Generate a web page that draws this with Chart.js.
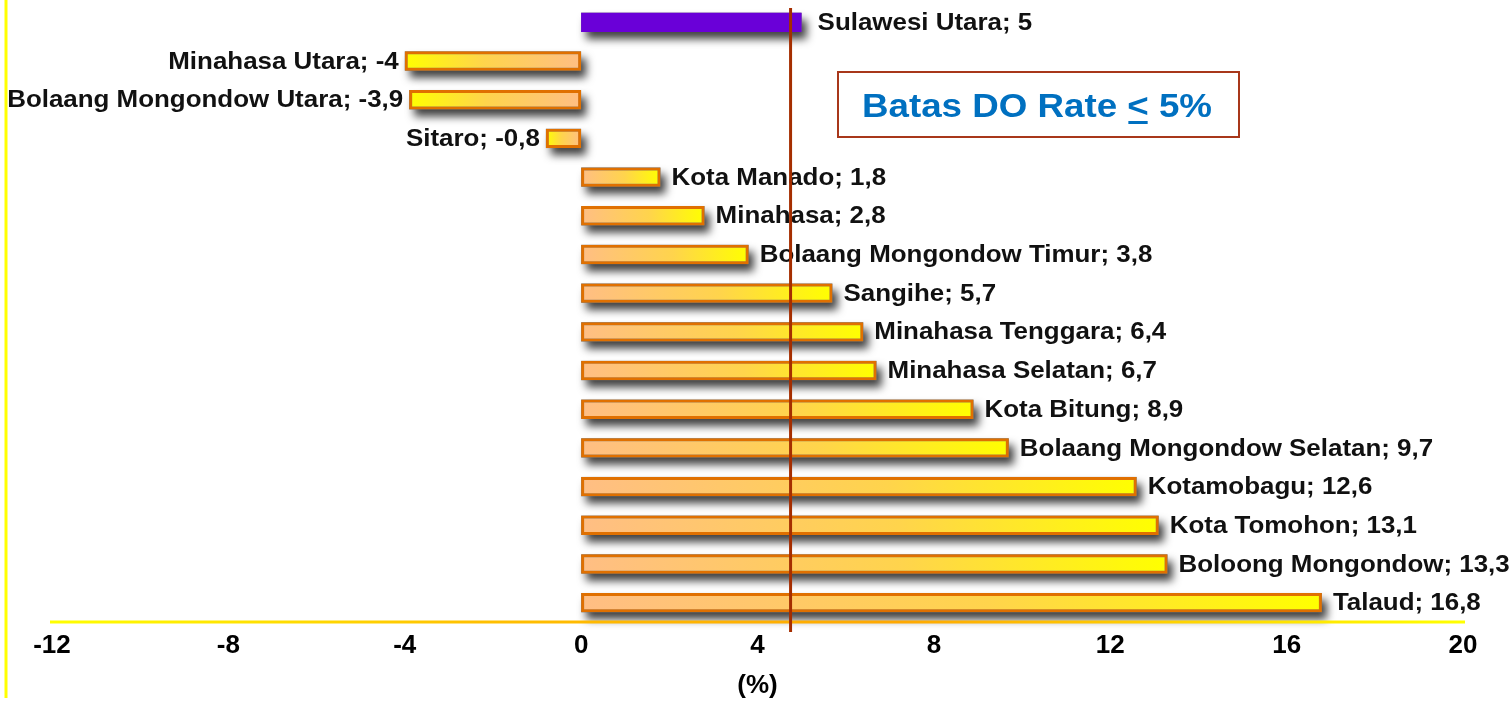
<!DOCTYPE html>
<html>
<head>
<meta charset="utf-8">
<script src="https://cdn.jsdelivr.net/npm/chart.js@4.4.1/dist/chart.umd.min.js"></script>
<style>
  html, body { margin: 0; padding: 0; background: #ffffff; }
  #wrap { width: 1510px; height: 701px; }
</style>
</head>
<body>
<div id="wrap"><canvas id="doChart" width="1510" height="701"></canvas></div>
<script>
const regions = [
  "Sulawesi Utara", "Minahasa Utara", "Bolaang Mongondow Utara", "Sitaro",
  "Kota Manado", "Minahasa", "Bolaang Mongondow Timur", "Sangihe",
  "Minahasa Tenggara", "Minahasa Selatan", "Kota Bitung", "Bolaang Mongondow Selatan",
  "Kotamobagu", "Kota Tomohon", "Boloong Mongondow", "Talaud"
];
const doRate = [5, -4, -3.9, -0.8, 1.8, 2.8, 3.8, 5.7, 6.4, 6.7, 8.9, 9.7, 12.6, 13.1, 13.3, 16.8];
const xTicks = [-12, -8, -4, 0, 4, 8, 12, 16, 20];
const batasDO = 4.75;
const batasText = "Batas DO Rate ";

const labelFont = "bold 24px 'Liberation Sans', Arial, sans-serif";

function fmt(v) {
  return String(v).replace(".", ",");
}

function barFill(ctx) {
  if (ctx.type !== "data") return "#FFD060";
  if (ctx.dataIndex === 0) return "#6A00D8";
  const chart = ctx.chart;
  const x = chart.scales.x;
  if (!x) return "#FFD060";
  const x0 = x.getPixelForValue(0);
  const x1 = x.getPixelForValue(ctx.raw);
  if (!isFinite(x0) || !isFinite(x1) || x0 === x1) return "#FFD060";
  const g = chart.ctx.createLinearGradient(x0, 0, x1, 0);
  g.addColorStop(0, "#FFBE84");
  g.addColorStop(0.55, "#FFD44C");
  g.addColorStop(1, "#FFFF00");
  return g;
}

// soft grey shadow under every bar
const shadowPlugin = {
  id: "barShadow",
  beforeDatasetsDraw(chart) {
    const ctx = chart.ctx;
    chart.getDatasetMeta(0).data.forEach(bar => {
      const p = bar.getProps(["x", "y", "base", "height"], true);
      const left = Math.min(p.x, p.base);
      const w = Math.abs(p.x - p.base);
      ctx.save();
      ctx.shadowColor = "rgba(0,0,0,0.75)";
      ctx.shadowBlur = 8;
      ctx.shadowOffsetX = 5;
      ctx.shadowOffsetY = 7;
      ctx.fillStyle = "#777";
      ctx.fillRect(left, p.y - p.height / 2, w, p.height);
      ctx.restore();
    });
  }
};

const decorPlugin = {
  id: "decor",
  afterDatasetsDraw(chart) {
    const ctx = chart.ctx;
    const xs = chart.scales.x;
    const area = chart.chartArea;

    // axis line
    const ag = ctx.createLinearGradient(area.left, 0, area.right, 0);
    ag.addColorStop(0, "#FFFF00");
    ag.addColorStop(0.3, "#FFC000");
    ag.addColorStop(0.6, "#FFA800");
    ag.addColorStop(1, "#FFFF00");
    ctx.save();
    ctx.strokeStyle = ag;
    ctx.lineWidth = 3;
    ctx.beginPath();
    ctx.moveTo(area.left - 2, area.bottom);
    ctx.lineTo(area.right + 2, area.bottom);
    ctx.stroke();
    ctx.restore();

    // data labels
    ctx.save();
    ctx.font = labelFont;
    ctx.fillStyle = "#111";
    ctx.textBaseline = "middle";
    chart.getDatasetMeta(0).data.forEach((bar, i) => {
      const v = doRate[i];
      const txt = regions[i] + "; " + fmt(v);
      const sx = 1.08;
      ctx.save();
      if (v >= 0) {
        const gap = i === 0 ? 16 : 11;
        ctx.translate(bar.x + gap, bar.y);
        ctx.scale(sx, 1);
        ctx.textAlign = "left";
      } else {
        ctx.translate(bar.x - 6, bar.y);
        ctx.scale(sx, 1);
        ctx.textAlign = "right";
      }
      ctx.fillText(txt, 0, 1);
      ctx.restore();
    });
    ctx.restore();

    // limit line
    const lx = xs.getPixelForValue(batasDO);
    ctx.save();
    ctx.strokeStyle = "#A52E00";
    ctx.lineWidth = 3;
    ctx.beginPath();
    ctx.moveTo(lx, area.top + 5);
    ctx.lineTo(lx, area.bottom + 10);
    ctx.stroke();
    ctx.restore();

    // annotation box
    const bx = 838, by = 72, bw = 401, bh = 65;
    ctx.save();
    ctx.fillStyle = "#ffffff";
    ctx.fillRect(bx, by, bw, bh);
    ctx.strokeStyle = "#A8371A";
    ctx.lineWidth = 2;
    ctx.strokeRect(bx, by, bw, bh);
    ctx.translate(862, 117);
    ctx.scale(1.08, 1);
    ctx.font = "bold 34px 'Liberation Sans', Arial, sans-serif";
    ctx.fillStyle = "#0070C0";
    ctx.textBaseline = "alphabetic";
    ctx.textAlign = "left";
    let tx = 0;
    ctx.fillText(batasText, tx, 0);
    tx += ctx.measureText(batasText).width;
    ctx.fillText("<", tx, 0);
    const lw = ctx.measureText("<").width;
    ctx.fillRect(tx + 1, 4, lw - 2, 3);
    tx += lw;
    ctx.fillText(" 5%", tx, 0);
    ctx.restore();
  },
  afterDraw(chart) {
    const ctx = chart.ctx;
    ctx.save();
    ctx.strokeStyle = "#FFFF00";
    ctx.lineWidth = 3;
    ctx.beginPath();
    ctx.moveTo(6, 0);
    ctx.lineTo(6, 698);
    ctx.stroke();
    ctx.restore();
  }
};

new Chart(document.getElementById("doChart"), {
  type: "bar",
  data: {
    labels: regions,
    datasets: [{
      data: doRate,
      backgroundColor: barFill,
      borderColor: "#E07000",
      borderWidth: doRate.map((_, i) => i === 0 ? 0 : 3),
      borderSkipped: false,
      barPercentage: 0.5,
      categoryPercentage: 1
    }]
  },
  options: {
    indexAxis: "y",
    responsive: false,
    animation: false,
    layout: { padding: { left: 52, right: 47, top: 3, bottom: 0 } },
    plugins: {
      legend: { display: false },
      tooltip: { enabled: false }
    },
    scales: {
      y: { display: false },
      x: {
        min: -12,
        max: 20,
        afterBuildTicks: s => { s.ticks = xTicks.map(v => ({ value: v })); },
        afterFit: s => { s.height = 79; },
        grid: { display: false, drawTicks: false },
        border: { display: false },
        ticks: {
          color: "#000",
          padding: 8,
          font: { family: "'Liberation Sans', Arial, sans-serif", size: 26, weight: "bold" }
        },
        title: {
          display: true,
          text: "(%)",
          color: "#000",
          padding: { top: 0, bottom: 0 },
          font: { family: "'Liberation Sans', Arial, sans-serif", size: 26, weight: "bold" }
        }
      }
    }
  },
  plugins: [shadowPlugin, decorPlugin]
});
</script>
</body>
</html>
